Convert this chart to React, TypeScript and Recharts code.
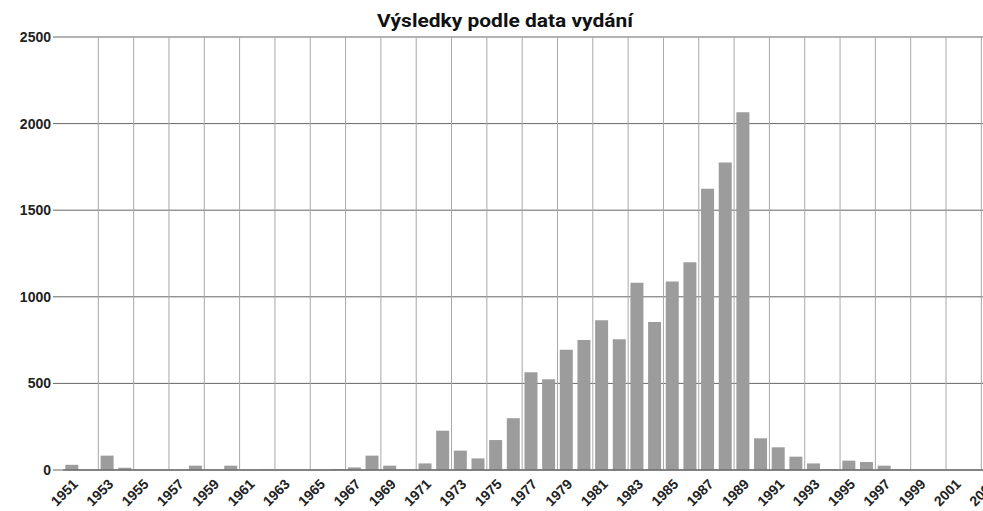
import React from 'react';
import { BarChart, Bar, XAxis, YAxis, CartesianGrid, ReferenceLine } from 'recharts';

const years = [
  '1951', '1952', '1953', '1954', '1955', '1956', '1957', '1958', '1959', '1960',
  '1961', '1962', '1963', '1964', '1965', '1966', '1967', '1968', '1969', '1970',
  '1971', '1972', '1973', '1974', '1975', '1976', '1977', '1978', '1979', '1980',
  '1981', '1982', '1983', '1984', '1985', '1986', '1987', '1988', '1989', '1990',
  '1991', '1992', '1993', '1994', '1995', '1996', '1997', '1998', '1999', '2000',
  '2001', '2002', '2003',
];

const counts = [
  30, 0, 83, 13, 0, 0, 0, 25, 0, 25,
  0, 3, 0, 0, 0, 5, 15, 83, 25, 0,
  38, 227, 112, 67, 173, 299, 565, 524, 694, 750,
  865, 755, 1081, 855, 1088, 1200, 1624, 1776, 2065, 183,
  131, 77, 38, 4, 54, 46, 25, 3, 0, 0,
  0, 0, 70,
];

const yTicks = [0, 500, 1000, 1500, 2000, 2500];
const gridYears = years.filter((_, i) => i % 2 === 0);
const title = 'Výsledky podle data vydání';

const data = years.map((year, i) => ({ year, count: counts[i] }));

const tickFont = { fontSize: 14, fontWeight: 700, fill: '#222', fontFamily: 'Liberation Sans, Arial, sans-serif' };

export default function App() {
  return (
    <div style={{ position: 'absolute', left: 0, top: 0, width: 983, height: 511, overflow: 'hidden', background: '#fff' }}>
      <svg width={983} height={36} style={{ position: 'absolute', left: 0, top: 0 }}>
        <text
          x={505}
          y={27}
          textAnchor="middle"
          fontFamily="Roboto, sans-serif"
          fontWeight={700}
          fontSize={19}
          textLength={256}
          lengthAdjust="spacingAndGlyphs"
          fill="#111"
        >
          {title}
        </text>
      </svg>
      <div style={{ position: 'absolute', left: 0, top: 0 }}>
        <BarChart
          width={1005}
          height={511}
          data={data}
          margin={{ top: 37, right: 6, bottom: 0, left: 0 }}
          barCategoryGap="13%"
        >
          <XAxis
            dataKey="year"
            interval={1}
            angle={-45}
            textAnchor="end"
            tick={tickFont}
            tickLine={false}
            axisLine={{ stroke: '#555' }}
            height={41}
          />
          <YAxis
            domain={[0, 2500]}
            ticks={yTicks}
            interval={0}
            width={63}
            tickSize={10}
            tickLine={{ stroke: '#666' }}
            axisLine={false}
            tick={tickFont}
          />
          <Bar dataKey="count" fill="#9c9c9c" isAnimationActive={false} />
          {gridYears.map((y) => (
            <ReferenceLine key={y} x={y} position="start" stroke="#a8a8a8" strokeWidth={1} />
          ))}
          <CartesianGrid vertical={false} stroke="#666" strokeDasharray="" />
        </BarChart>
      </div>
    </div>
  );
}
